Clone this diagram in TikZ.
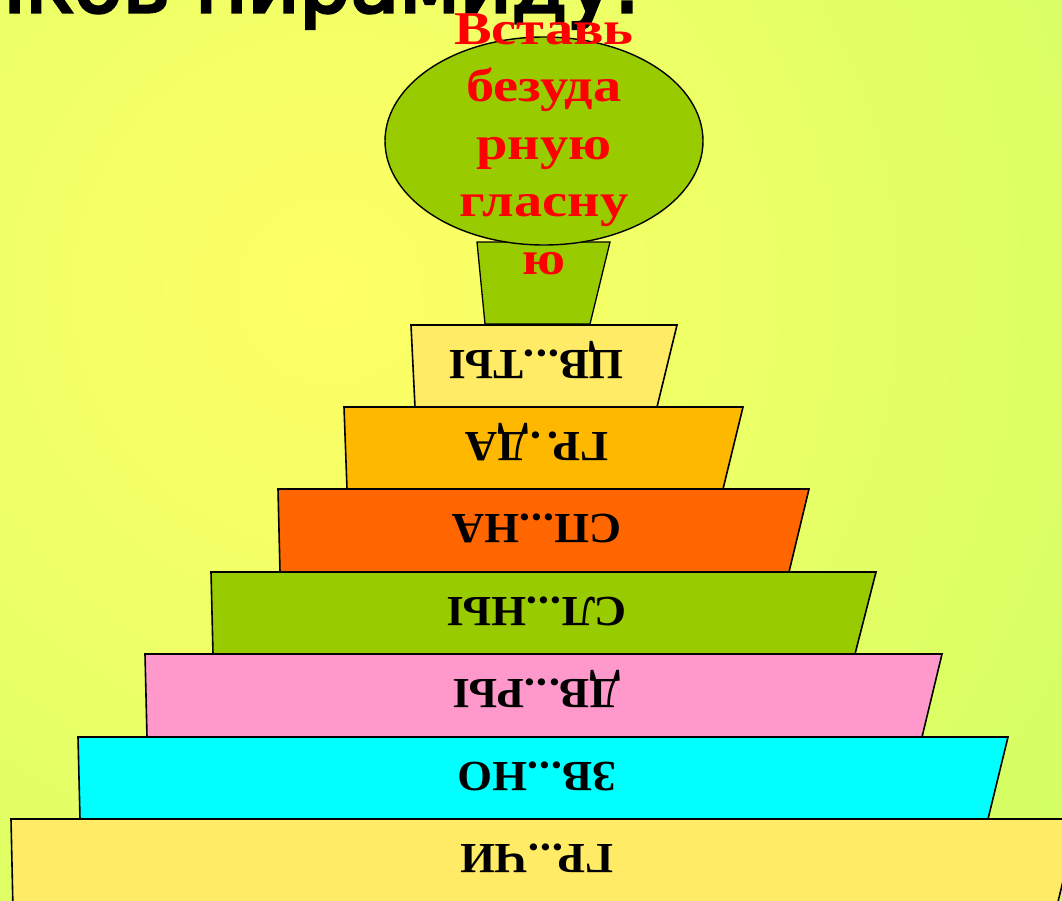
\documentclass[tikz,border=0pt]{standalone}
\usepackage{fontspec}
\setmainfont{Liberation Serif}
\newfontfamily\topfont[FakeBold=4]{DejaVu Sans}
\definecolor{bgA}{HTML}{FFFF66}
\definecolor{bgB}{HTML}{F6FF66}
\definecolor{bgC}{HTML}{E6FF66}
\definecolor{bgD}{HTML}{D6FF63}
\definecolor{bgE}{HTML}{C6FF5E}
\definecolor{bgF}{HTML}{B6F856}
\definecolor{bgG}{HTML}{A8EE4C}
\definecolor{cYel}{HTML}{FFEB66}
\definecolor{cOra}{HTML}{FFB800}
\definecolor{cRed}{HTML}{FF6600}
\definecolor{cGrn}{HTML}{99CC00}
\definecolor{cPnk}{HTML}{FF99CC}
\definecolor{cCya}{HTML}{00FFFF}
\pgfdeclareradialshading{bgshade}{\pgfpoint{0bp}{0bp}}{color(0bp)=(bgA); color(6bp)=(bgB); color(14bp)=(bgC); color(22bp)=(bgD); color(32bp)=(bgE); color(42bp)=(bgF); color(50bp)=(bgG)}
\newcommand\redwide[1]{\scalebox{1.2}[1]{#1}}
\newcommand\lblwide[1]{\scalebox{1.04}[1]{#1}}
\begin{document}
\begin{tikzpicture}[x=1pt,y=-1pt,
  tier/.style={draw=black,line width=1.6pt,line join=miter},
  lbl/.style={rotate=180,font=\fontsize{43}{50}\selectfont\bfseries,anchor=base,inner sep=0pt,text=black},
  redtxt/.style={font=\fontsize{47}{55}\selectfont\bfseries,anchor=base,inner sep=0pt,text=red}]
\useasboundingbox (0,0) rectangle (1062,900);
\begin{scope}
\clip (0,0) rectangle (1062,900);
\shade[shading=bgshade] (330,290) circle (960);
\node[font=\topfont\fontsize{80}{90}\selectfont,anchor=base east,inner sep=0pt] (title) at (640,12) {иков пирамиду.};
% stem
\draw[tier,fill=cGrn,line width=1.3pt] (477,242) -- (610,242) -- (590,324) -- (485,324) -- cycle;
% ellipse
\draw[fill=cGrn,line width=1.4pt] (544,141) ellipse [x radius=159, y radius=104];
\node[redtxt] (r1) at (544,44) {\redwide{Вставь}};
\node[redtxt] (r2) at (544,101.5) {\redwide{безуда}};
\node[redtxt] (r3) at (544,159) {\redwide{рную}};
\node[redtxt] (r4) at (544,216.5) {\redwide{гласну}};
\node[redtxt] (r5) at (544,274) {\redwide{ю}};
% tiers
\draw[tier,fill=cYel] (411,325) -- (677,325) -- (657,407) -- (415,407) -- cycle;
\draw[tier,fill=cOra] (344,407) -- (743,407) -- (723,489) -- (347,489) -- cycle;
\draw[tier,fill=cRed] (278,489) -- (809,489) -- (789,572) -- (280,572) -- cycle;
\draw[tier,fill=cGrn] (211,572) -- (876,572) -- (855,654) -- (213,654) -- cycle;
\draw[tier,fill=cPnk] (145,654) -- (942,654) -- (922,737) -- (147,737) -- cycle;
\draw[tier,fill=cCya] (78,737) -- (1008,737) -- (988,819) -- (80,819) -- cycle;
\draw[tier,fill=cYel] (11,819) -- (1078,819) -- (1056,910) -- (13,910) -- cycle;
\node[lbl] (w1) at (537,350) {\lblwide{ЦВ.\kern1pt.\kern1pt.ТЫ}};
\node[lbl] (w2) at (537,432) {\lblwide{ГР.\kern6pt.\kern2ptДА}};
\node[lbl] (w3) at (537,514.5) {\lblwide{СП.\kern1pt.\kern1pt.НА}};
\node[lbl] (w4) at (537,597) {\lblwide{СЛ.\kern1pt.\kern1pt.НЫ}};
\node[lbl] (w5) at (537,679.5) {\lblwide{ДВ.\kern1pt.\kern1pt.РЫ}};
\node[lbl] (w6) at (537,762) {\lblwide{ЗВ.\kern1pt.\kern1pt.НО}};
\node[lbl] (w7) at (537,844) {\lblwide{ГР.\kern1pt.\kern1pt.ЧИ}};
\end{scope}
\end{tikzpicture}
\end{document}
